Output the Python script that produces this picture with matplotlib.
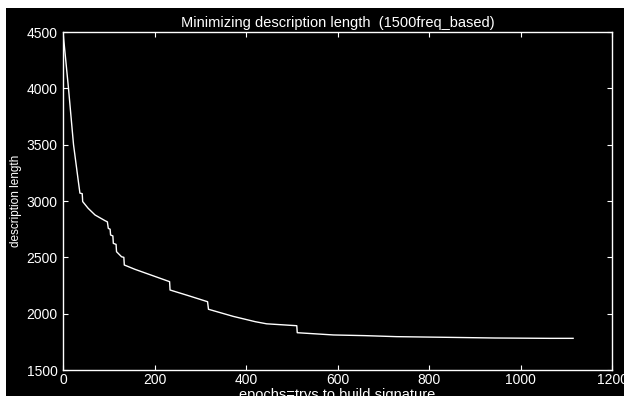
import matplotlib
matplotlib.use("Agg")
import matplotlib.pyplot as plt
from matplotlib.patches import Rectangle

# values
epochs = [0, 6, 12, 23, 34, 37, 42, 43, 55, 70, 92, 97, 99, 103, 104, 109,
          110, 116, 117, 128, 133, 134, 157, 233, 234, 274, 316, 318, 372,
          420, 445, 511, 512, 591, 660, 729, 839, 944, 1064, 1115]
desc_length = [4500, 4250, 4000, 3500, 3160, 3070, 3065, 2995, 2935, 2876,
               2825, 2815, 2757, 2750, 2698, 2690, 2624, 2615, 2550, 2505,
               2500, 2432, 2394, 2284, 2210, 2160, 2106, 2039, 1976, 1929,
               1910, 1893, 1831, 1811, 1805, 1796, 1790, 1784, 1781, 1781]
x_ticks = [0, 200, 400, 600, 800, 1000, 1200]
y_ticks = [1500, 2000, 2500, 3000, 3500, 4000, 4500]

title = "Minimizing description length  (1500freq_based)"
x_label = "epochs=trys to build signature"
y_label = "description length"

plt.rcParams["font.family"] = ["Liberation Sans", "DejaVu Sans"]

W, H = 624, 396
fig = plt.figure(figsize=(W / 100, H / 100), dpi=100, facecolor="white")
# black canvas with a thin white border on top and left
fig.patches.append(Rectangle((6 / W, 0), 1, 1 - 8 / H, transform=fig.transFigure,
                             facecolor="black", edgecolor="none", zorder=-5))

ax = fig.add_axes([63 / W, 1 - 370 / H, (612 - 63) / W, (370 - 32) / H])
ax.set_facecolor("black")
ax.plot(epochs, desc_length, color="white", lw=1.0)

ax.set_xlim(0, 1200)
ax.set_ylim(1500, 4500)
ax.set_xticks(x_ticks)
ax.set_yticks(y_ticks)
ax.tick_params(direction="in", length=3.5, width=0.8, color="white",
               labelcolor="white", labelsize=10, top=True, right=True)
ax.tick_params(axis="x", pad=2)
ax.tick_params(axis="y", pad=4)
for sp in ax.spines.values():
    sp.set_color("white")
    sp.set_linewidth(1.0)

cx = (63 + 612) / 2 / W
fig.text(cx, 1 - 27 / H, title, color="white", fontsize=10.5,
         ha="center", va="baseline")
fig.text(cx, 1 - 388 / H, x_label, color="white", fontsize=10.5,
         ha="center", va="top")
fig.text(16 / W, 1 - 201 / H, y_label, color="white", fontsize=8.5,
         ha="center", va="center", rotation=90)

fig.savefig("out.png", dpi=100, facecolor=fig.get_facecolor())
